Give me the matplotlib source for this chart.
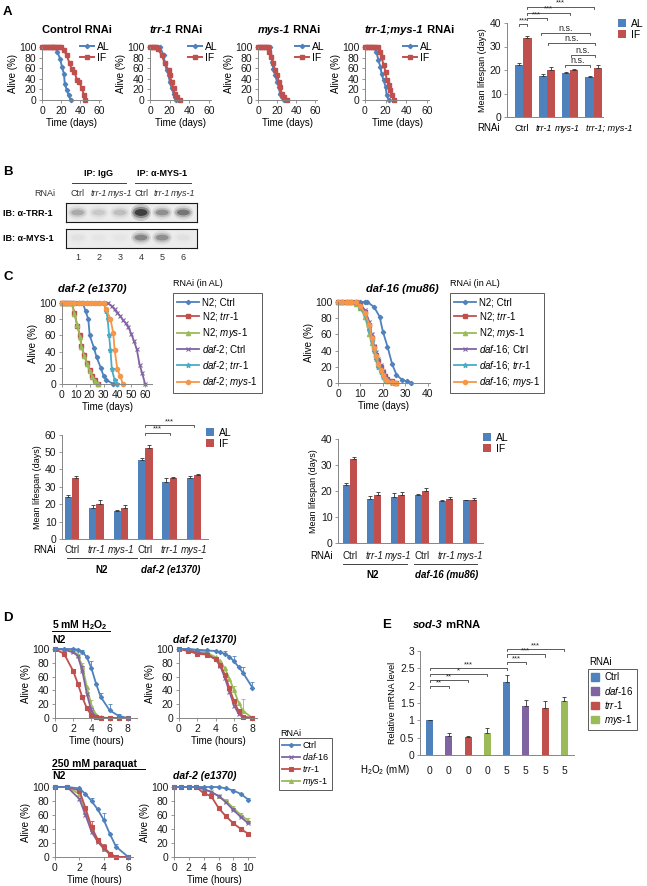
import numpy as np
import matplotlib
matplotlib.use('Agg')
import matplotlib.pyplot as plt
import matplotlib.transforms as mtransforms
from matplotlib.patches import Ellipse, Patch

plt.rcParams['font.family'] = ['Liberation Sans', 'DejaVu Sans']
plt.rcParams['mathtext.fontset'] = 'custom'
plt.rcParams['mathtext.rm'] = 'Liberation Sans'
plt.rcParams['mathtext.it'] = 'Liberation Sans:italic'
plt.rcParams['mathtext.bf'] = 'Liberation Sans:bold'
plt.rcParams['axes.linewidth'] = 0.6

BLUE, RED, GREEN = '#4f81bd', '#c0504d', '#9bbb59'
PURPLE, TEAL, ORANGE = '#8064a2', '#4bacc6', '#f79646'
AXC = '#868686'

# ---------------- data ----------------
# A: survival (days, % alive)
ctrl_al_t = [0, 2, 4, 6, 8, 10, 12, 14, 16, 19, 21, 23, 24, 26, 28, 30]
ctrl_al_s = [100, 100, 100, 100, 100, 100, 100, 100, 91, 78, 62, 50, 30, 19, 9, 0]
ctrl_if_t = [0, 2, 4, 6, 8, 10, 12, 14, 16, 18, 20, 23, 26, 29, 31, 34, 37, 39, 42, 44, 45]
ctrl_if_s = [100] * 11 + [94, 84, 69, 59, 53, 37, 34, 22, 9, 0]
trr_al_t = [0, 2, 4, 6, 8, 10, 14, 15, 17, 19, 20, 22, 24, 25, 26]
trr_al_s = [100, 100, 100, 100, 100, 100, 84, 69, 56, 47, 34, 22, 12, 6, 0]
trr_if_t = [0, 2, 4, 6, 8, 12, 15, 19, 20, 22, 24, 25, 27, 30]
trr_if_s = [100, 100, 100, 100, 97, 84, 69, 56, 47, 34, 22, 12, 6, 0]
mys_al_t = [0, 2, 4, 6, 8, 10, 13, 15, 16, 18, 20, 22, 23, 25, 27]
mys_al_s = [100] * 7 + [72, 59, 47, 34, 25, 12, 6, 0]
mys_if_t = [0, 2, 4, 6, 8, 10, 12, 14, 16, 18, 20, 22, 23, 25, 27, 30]
mys_if_s = [100, 100, 100, 100, 100, 100, 91, 81, 69, 56, 47, 34, 25, 12, 6, 0]
tm_al_t = [0, 2, 4, 6, 8, 11, 13, 15, 16, 18, 20, 21, 23]
tm_al_s = [100, 100, 100, 100, 100, 91, 75, 62, 50, 37, 25, 9, 0]
tm_if_t = [0, 2, 4, 6, 8, 10, 13, 15, 16, 18, 20, 21, 23, 24, 26, 28]
tm_if_s = [100] * 7 + [91, 81, 66, 53, 37, 28, 19, 9, 0]

a_cats = ['Ctrl', 'trr-1', 'mys-1', 'trr-1; mys-1']
a_al = [22, 17.5, 18.8, 17]
a_al_err = [1.0, 0.8, 0.3, 0.3]
a_if = [33.8, 20, 20, 20.8]
a_if_err = [0.8, 1.2, 0.5, 1.2]

# B: western blot band intensities (lanes 1-6)
b_lanes = ['Ctrl', 'trr-1', 'mys-1', 'Ctrl', 'trr-1', 'mys-1']
b_trr = [0.3, 0.15, 0.2, 1.0, 0.45, 0.6]
b_mys = [0.04, 0.03, 0.03, 0.5, 0.45, 0.04]

# C: survival, daf-2 background
c2_n2ctrl_t = [0, 2, 4, 6, 8, 10, 12, 14, 15, 17, 19, 20, 23, 25, 28, 30, 32, 37]
c2_n2ctrl_s = [100] * 9 + [90, 80, 60, 45, 33, 20, 10, 5, 0]
c2_n2trr_t = [0, 2, 4, 7, 9, 11, 13, 14, 16, 18, 20, 22, 24, 26]
c2_n2trr_s = [100, 100, 100, 100, 88, 72, 60, 47, 36, 26, 17, 10, 5, 0]
c2_n2mys_s = [100, 100, 100, 100, 86, 73, 58, 46, 35, 25, 16, 9, 4, 0]
c2_dctrl_t = [0, 3, 6, 9, 12, 15, 18, 21, 24, 27, 30, 33, 36, 38, 40, 42, 44, 46, 48, 50, 52, 54, 56, 58, 60]
c2_dctrl_s = [100] * 12 + [96, 92, 88, 84, 79, 75, 70, 62, 53, 43, 24, 13, 0]
c2_dtrr_t = [0, 3, 6, 9, 12, 15, 18, 21, 24, 27, 30, 32, 33, 34, 35, 36, 38, 40]
c2_dtrr_s = [100] * 11 + [90, 80, 60, 42, 18, 5, 0]
c2_dmys_t = [0, 3, 6, 9, 12, 15, 18, 21, 24, 27, 30, 32, 35, 37, 38, 40, 42, 44]
c2_dmys_s = [100] * 11 + [92, 80, 63, 42, 18, 10, 0]

# C: survival, daf-16 background
c16_n2ctrl_t = [0, 2, 4, 6, 8, 10, 12, 13, 16, 18.5, 20, 22, 24, 26, 28.5, 30.5, 32.5]
c16_n2ctrl_s = [100] * 8 + [94, 82, 63, 45, 24, 10, 4, 2, 0]
c16_t = [0, 2, 4, 6, 8, 10, 12, 14, 15, 16, 17, 18, 19, 20, 21, 22, 24, 26]
c16_n2trr_s = [100, 100, 100, 100, 100, 96, 88, 72, 55, 44, 35, 27, 20, 14, 9, 5, 2, 0]
c16_n2mys_s = [100, 100, 100, 100, 98, 92, 82, 60, 50, 42, 32, 24, 17, 11, 7, 3, 1, 0]
c16_dctrl_s = [100, 100, 100, 100, 100, 97, 90, 75, 60, 46, 38, 30, 22, 15, 9, 5, 2, 0]
c16_dtrr_s = [100, 100, 100, 100, 99, 93, 84, 66, 52, 40, 30, 20, 13, 8, 4, 2, 0, 0]
c16_dmys_s = [100, 100, 100, 100, 100, 95, 86, 72, 55, 43, 33, 24, 16, 10, 5, 2, 1, 0]

c_cats = ['Ctrl', 'trr-1', 'mys-1', 'Ctrl', 'trr-1', 'mys-1']
cl_al = [24, 18, 16, 45.5, 33, 35.2]
cl_al_err = [1.3, 1.3, 0.7, 1.2, 2.2, 0.8]
cl_if = [35, 20, 17.8, 52.5, 35, 36.5]
cl_if_err = [1.2, 2.3, 1.7, 1.5, 0.8, 0.9]
cr_al = [22.5, 17, 17.8, 18.3, 16.2, 16.5]
cr_al_err = [0.5, 1.0, 1.3, 0.4, 0.4, 0.2]
cr_if = [32.3, 18.6, 18.4, 20, 16.8, 16.7]
cr_if_err = [0.8, 1.0, 1.4, 1.0, 0.8, 0.6]

# D: stress survival (hours, % alive, upper error)
dh_t = [0, 1, 2, 2.5, 3, 3.5, 4, 4.5, 5, 6, 7, 8]
dh_n2 = {
    'Ctrl':   ([100, 100, 100, 99, 96, 88, 72, 50, 31, 11, 3, 0], [0, 0, 0, 0, 2, 0, 10, 0, 5, 10, 3, 0]),
    'daf-16': ([100, 99, 95, 90, 68, 35, 10, 2, 0, 0, 0, 0], [0, 0, 0, 0, 8, 0, 4, 0, 0, 0, 0, 0]),
    'trr-1':  ([100, 93, 68, 50, 30, 14, 4, 1, 0, 0, 0, 0], [0, 0, 3, 0, 4, 0, 2, 0, 0, 0, 0, 0]),
    'mys-1':  ([100, 100, 97, 92, 75, 45, 18, 5, 1, 0, 0, 0], [0, 0, 0, 0, 5, 0, 8, 0, 0, 0, 0, 0]),
}
dh2_t = [0, 1, 2, 3, 4, 4.5, 5, 5.5, 6, 6.5, 7, 8]
dh_daf2 = {
    'Ctrl':   ([100, 100, 99, 98, 97, 95, 93, 89, 82, 74, 65, 44], [0, 0, 0, 0, 0, 0, 4, 0, 8, 0, 9, 8]),
    'daf-16': ([100, 99, 95, 93, 85, 75, 58, 38, 18, 6, 1, 0], [0] * 12),
    'trr-1':  ([100, 97, 93, 92, 85, 77, 63, 43, 24, 10, 2, 0], [0] * 12),
    'mys-1':  ([100, 100, 98, 95, 88, 82, 72, 57, 40, 22, 10, 0], [0, 0, 0, 0, 0, 0, 0, 0, 6, 0, 17, 0]),
}
dp_t = [0, 1, 2, 2.5, 3, 3.5, 4, 4.5, 5, 6]
dp_n2 = {
    'Ctrl':   ([100, 100, 98, 90, 80, 68, 53, 33, 15, 0], [0, 0, 0, 0, 5, 0, 10, 0, 4, 0]),
    'daf-16': ([100, 100, 83, 60, 36, 22, 12, 4, 0, 0], [0] * 10),
    'trr-1':  ([100, 100, 95, 70, 43, 25, 14, 5, 0, 0], [0, 0, 0, 0, 8, 0, 4, 0, 0, 0]),
    'mys-1':  ([100, 100, 90, 65, 40, 23, 12, 4, 0, 0], [0] * 10),
}
dp2_t = [0, 1, 2, 3, 4, 5, 6, 7, 8, 9, 10]
dp_daf2 = {
    'Ctrl':   ([100, 100, 100, 100, 100, 100, 100, 98, 95, 90, 82], [0, 0, 0, 0, 0, 0, 0, 1, 2, 1, 2]),
    'daf-16': ([100, 100, 100, 100, 97, 93, 87, 78, 67, 57, 48], [0, 0, 0, 0, 0, 0, 2, 0, 3, 0, 3]),
    'trr-1':  ([100, 100, 100, 100, 91, 87, 70, 58, 48, 40, 33], [0, 0, 0, 0, 0, 0, 2, 2, 2, 2, 3]),
    'mys-1':  ([100, 100, 100, 100, 97, 93, 87, 80, 70, 60, 52], [0, 0, 0, 0, 0, 0, 0, 3, 3, 3, 4]),
}

# E: sod-3 mRNA
e_rnai = ['Ctrl', 'daf-16', 'trr-1', 'mys-1', 'Ctrl', 'daf-16', 'trr-1', 'mys-1']
e_h2o2 = ['0', '0', '0', '0', '5', '5', '5', '5']
e_val = [1.0, 0.55, 0.51, 0.63, 2.1, 1.4, 1.37, 1.57]
e_err = [0.01, 0.08, 0.05, 0.14, 0.22, 0.19, 0.2, 0.1]
e_sig = [(0, 1, '**'), (0, 2, '**'), (0, 3, '*'), (0, 4, '***'),
         (4, 5, '***'), (4, 6, '***'), (4, 7, '***')]
e_sig_y = [1.99, 2.16, 2.33, 2.5, 2.68, 2.9, 3.05]

# ---------------- figure ----------------
W, H = 647, 886
fig = plt.figure(figsize=(W / 100, H / 100), dpi=100)
ax0 = fig.add_axes([0, 0, 1, 1])
ax0.set_xlim(0, W)
ax0.set_ylim(H, 0)
ax0.axis('off')
ax0.set_zorder(10)


def pax(l, t, r, b):
    a = fig.add_axes([l / W, 1 - b / H, (r - l) / W, (b - t) / H])
    a.patch.set_visible(False)
    return a


def excel(a):
    for s in ['top', 'right']:
        a.spines[s].set_visible(False)
    for s in ['left', 'bottom']:
        a.spines[s].set_color(AXC)
        a.spines[s].set_linewidth(0.7)
    a.tick_params(direction='out', length=2.5, width=0.6, color=AXC,
                  labelsize=7.5, pad=1.5, labelcolor='#1a1a1a')


def rich(x, y, parts, size=8):
    prev = None
    for s, st in parts:
        kw = dict(fontsize=size, fontweight='bold' if 'b' in st else 'normal',
                  fontstyle='italic' if 'i' in st else 'normal',
                  va='baseline', ha='left')
        if prev is None:
            prev = ax0.text(x, y, s, **kw)
        else:
            prev = ax0.annotate(s, xy=(1, y), xycoords=(prev, 'data'), **kw)


def fig_anchor(x, y):
    return dict(bbox_to_anchor=(x / W, 1 - y / H), bbox_transform=fig.transFigure)


def survival(l, t, r, b, xmax, xticks, xlabel):
    a = pax(l, t, r, b)
    excel(a)
    a.set_xlim(0, xmax)
    a.set_ylim(0, 100)
    a.set_xticks(xticks)
    a.set_yticks(range(0, 101, 20))
    a.set_xlabel(xlabel, fontsize=7, labelpad=1.5)
    a.set_ylabel('Alive (%)', fontsize=7, labelpad=1)
    return a


def bracket(a, x1, x2, y, label, tick, size=5.5):
    a.plot([x1, x1, x2, x2], [y - tick, y, y, y - tick], color='#404040',
           lw=0.6, clip_on=False)
    a.text((x1 + x2) / 2, y, label, ha='center', va='bottom', fontsize=size,
           color='#262626', clip_on=False)


def italic_ticks(a):
    for lab in a.get_xticklabels():
        if lab.get_text() not in ('Ctrl', '0', '5'):
            lab.set_fontstyle('italic')


def mean_bars(a, al, al_err, iff, iff_err, w):
    x = np.arange(len(al))
    a.bar(x - w / 2, al, w, color=BLUE, label='AL')
    a.bar(x + w / 2, iff, w, color=RED, label='IF')
    a.errorbar(x - w / 2, al, yerr=[np.zeros(len(al)), al_err], fmt='none',
               ecolor='#333333', elinewidth=0.6, capsize=1.6, capthick=0.6)
    a.errorbar(x + w / 2, iff, yerr=[np.zeros(len(iff)), iff_err], fmt='none',
               ecolor='#333333', elinewidth=0.6, capsize=1.6, capthick=0.6)
    return x


# ---------- A ----------
ax0.text(3, 12, 'A', fontsize=9.5, fontweight='bold', va='center')
a_titles = [[('Control RNAi', 'b')], [('trr-1', 'bi'), (' RNAi', 'b')],
            [('mys-1', 'bi'), (' RNAi', 'b')], [('trr-1;mys-1', 'bi'), (' RNAi', 'b')]]
a_curves = [(ctrl_al_t, ctrl_al_s, ctrl_if_t, ctrl_if_s),
            (trr_al_t, trr_al_s, trr_if_t, trr_if_s),
            (mys_al_t, mys_al_s, mys_if_t, mys_if_s),
            (tm_al_t, tm_al_s, tm_if_t, tm_if_s)]
a_boxes = [(42, 101, 80), (150, 211, 188), (258, 317, 295), (365, 429, 403)]
for (l, r, lx), title, (t1, s1, t2, s2) in zip(a_boxes, a_titles, a_curves):
    a = survival(l, 47, r, 100, 62, [0, 20, 40, 60], 'Time (days)')
    a.plot(t1, s1, color=BLUE, lw=1.4, marker='D', ms=2.2, label='AL', clip_on=False)
    a.plot(t2, s2, color=RED, lw=1.4, marker='s', ms=2.6, label='IF', clip_on=False)
    rich(l, 33, title, size=8)
    a.legend(loc='upper left', frameon=False, fontsize=7.5, handlelength=1.3,
             handletextpad=0.3, borderaxespad=0, borderpad=0, labelspacing=0.05,
             **fig_anchor(lx, 42))

a = pax(507, 23, 603, 117)
excel(a)
x = mean_bars(a, a_al, a_al_err, a_if, a_if_err, 0.35)
a.set_xlim(-0.7, 3.4)
a.set_ylim(0, 40)
a.set_yticks(range(0, 41, 10))
a.set_xticks(x)
a.set_xticklabels([])
a.tick_params(axis='x', length=0)
a.set_ylabel('Mean lifespan (days)', fontsize=6.5, labelpad=2)
ax0.text(477, 128, 'RNAi', fontsize=7, va='center')
at = mtransforms.blended_transform_factory(a.transData, ax0.transData)
for xi, lab, dx in zip(x, a_cats, [-0.08, -0.14, -0.12, 0.68]):
    ax0.text(xi + dx, 128, lab, transform=at, fontsize=6.6, ha='center', va='center',
             fontstyle='normal' if lab == 'Ctrl' else 'italic')
bracket(a, -0.17, 0.17, 39.6, '***', 0.8)
bracket(a, 0.15, 1.0, 42.1, '***', 0.8)
bracket(a, 0.15, 2.0, 44.4, '***', 0.8)
bracket(a, 0.15, 3.0, 46.9, '***', 0.8)
bracket(a, 0.75, 2.85, 35.7, 'n.s.', 0.8, 6.5)
bracket(a, 1.07, 3.05, 31.5, 'n.s.', 0.8, 6.5)
bracket(a, 2.02, 3.05, 26.4, 'n.s.', 0.8, 6.5)
bracket(a, 1.77, 2.85, 22.1, 'n.s.', 0.8, 6.5)
a.legend(loc='upper left', frameon=False, fontsize=7.5, handlelength=0.8,
         handleheight=0.8, handletextpad=0.4, borderaxespad=0, borderpad=0,
         labelspacing=0.05, **fig_anchor(618, 19))

# ---------- B ----------
ax0.text(3, 172, 'B', fontsize=9.5, fontweight='bold', va='center')
blots = []
for (t, b), inten, yc in [((203, 222), b_trr, 0.5), ((229, 248), b_mys, 0.55)]:
    a = pax(66, t, 197, b)
    a.patch.set_visible(True)
    a.set_facecolor('#ececec')
    a.set_xlim(0.45, 6.65)
    a.set_ylim(0, 1)
    a.set_xticks([])
    a.set_yticks([])
    for s in a.spines.values():
        s.set_linewidth(0.8)
        s.set_color('#1a1a1a')
    for i, v in enumerate(inten):
        for w, h, al in [(0.95, 0.75, 0.15), (0.8, 0.5, 0.3), (0.6, 0.3, 0.55)]:
            hh = h * (1.2 if v > 0.9 else 1.0)
            a.add_patch(Ellipse((i + 1, yc), w, hh, color='black', alpha=al * v, lw=0))
    blots.append(a)
ax0.text(3, 213, 'IB: \u03b1-TRR-1', fontsize=6.5, fontweight='bold', va='center')
ax0.text(3, 238, 'IB: \u03b1-MYS-1', fontsize=6.5, fontweight='bold', va='center')
bt = mtransforms.blended_transform_factory(blots[0].transData, ax0.transData)
lanes = np.arange(1, 7)
for xi, lab in zip(lanes, b_lanes):
    ax0.text(xi, 193, lab, transform=bt, fontsize=6.5, ha='center', va='center',
             color='#333333', fontstyle='normal' if lab == 'Ctrl' else 'italic')
    ax0.text(xi, 258, str(xi), transform=bt, fontsize=6.5, ha='center',
             va='center', color='#333333')
ax0.text(55, 193, 'RNAi', fontsize=6.5, ha='right', va='center', color='#333333')
ax0.text(2, 173, 'IP: IgG', transform=bt, fontsize=6.5, fontweight='bold',
         ha='center', va='center')
ax0.text(5, 173, 'IP: \u03b1-MYS-1', transform=bt, fontsize=6.5, fontweight='bold',
         ha='center', va='center')
ax0.plot([0.75, 3.3], [183, 183], transform=bt, color='#404040', lw=0.7)
ax0.plot([3.7, 6.35], [183, 183], transform=bt, color='#404040', lw=0.7)

# ---------- C ----------
ax0.text(3, 277, 'C', fontsize=9.5, fontweight='bold', va='center')
ax0.text(58, 289, 'daf-2 (e1370)', fontsize=8, fontweight='bold',
         fontstyle='italic', va='center')
ax0.text(366, 289, 'daf-16 (mu86)', fontsize=8, fontweight='bold',
         fontstyle='italic', va='center')
ax0.text(173, 284, 'RNAi (in AL)', fontsize=6.5, va='center')
ax0.text(450, 284, 'RNAi (in AL)', fontsize=6.5, va='center')

leg_kw = dict(loc='upper left', fancybox=False, edgecolor='#404040',
              framealpha=1, fontsize=7, handlelength=2.2, handletextpad=0.3,
              labelspacing=0.3, borderpad=0.45, borderaxespad=0)

a = survival(62, 303, 152, 384, 65, range(0, 61, 10), 'Time (days)')
a.plot(c2_n2ctrl_t, c2_n2ctrl_s, color=BLUE, lw=1.3, marker='D', ms=2.2,
       label='N2; Ctrl', clip_on=False)
a.plot(c2_n2trr_t, c2_n2trr_s, color=RED, lw=1.3, marker='s', ms=3,
       label='N2; $\\mathit{trr}$-$\\mathit{1}$', clip_on=False)
a.plot(c2_n2trr_t, c2_n2mys_s, color=GREEN, lw=1.3, marker='^', ms=3,
       label='N2; $\\mathit{mys}$-$\\mathit{1}$', clip_on=False)
a.plot(c2_dctrl_t, c2_dctrl_s, color=PURPLE, lw=1.3, marker='x', ms=3.5,
       mew=0.8, label='$\\mathit{daf}$-$\\mathit{2}$; Ctrl', clip_on=False)
a.plot(c2_dtrr_t, c2_dtrr_s, color=TEAL, lw=1.3, marker='*', ms=3.5,
       label='$\\mathit{daf}$-$\\mathit{2}$; $\\mathit{trr}$-$\\mathit{1}$', clip_on=False)
a.plot(c2_dmys_t, c2_dmys_s, color=ORANGE, lw=1.3, marker='o', ms=3,
       label='$\\mathit{daf}$-$\\mathit{2}$; $\\mathit{mys}$-$\\mathit{1}$', clip_on=False)
leg = a.legend(**leg_kw, **fig_anchor(173, 293))
leg.get_frame().set_linewidth(0.6)

a = survival(338, 302, 430, 383, 40.9, range(0, 41, 10), 'Time (days)')
a.plot(c16_n2ctrl_t, c16_n2ctrl_s, color=BLUE, lw=1.3, marker='D', ms=2.2,
       label='N2; Ctrl', clip_on=False)
a.plot(c16_t, c16_n2trr_s, color=RED, lw=1.3, marker='s', ms=3,
       label='N2; $\\mathit{trr}$-$\\mathit{1}$', clip_on=False)
a.plot(c16_t, c16_n2mys_s, color=GREEN, lw=1.3, marker='^', ms=3,
       label='N2; $\\mathit{mys}$-$\\mathit{1}$', clip_on=False)
a.plot(c16_t, c16_dctrl_s, color=PURPLE, lw=1.3, marker='x', ms=3.5, mew=0.8,
       label='$\\mathit{daf}$-$\\mathit{16}$; Ctrl', clip_on=False)
a.plot(c16_t, c16_dtrr_s, color=TEAL, lw=1.3, marker='*', ms=3.5,
       label='$\\mathit{daf}$-$\\mathit{16}$; $\\mathit{trr}$-$\\mathit{1}$', clip_on=False)
a.plot(c16_t, c16_dmys_s, color=ORANGE, lw=1.3, marker='o', ms=3,
       label='$\\mathit{daf}$-$\\mathit{16}$; $\\mathit{mys}$-$\\mathit{1}$', clip_on=False)
leg = a.legend(**leg_kw, **fig_anchor(450, 293))
leg.get_frame().set_linewidth(0.6)

bar_leg = dict(loc='upper left', frameon=False, fontsize=7.5, handlelength=0.8,
               handleheight=0.8, handletextpad=0.4, borderaxespad=0, borderpad=0,
               labelspacing=0.05)

# C left bars
a = pax(62, 434.6, 208, 539)
excel(a)
x = mean_bars(a, cl_al, cl_al_err, cl_if, cl_if_err, 0.3)
a.set_xlim(-0.41, 5.57)
a.set_ylim(0, 60)
a.set_yticks(range(0, 61, 10))
a.set_xticks(x)
a.set_xticklabels(c_cats)
italic_ticks(a)
a.tick_params(axis='x', length=0, pad=4, labelsize=7)
a.set_ylabel('Mean lifespan (days)', fontsize=6.5, labelpad=2)
bracket(a, 3, 4, 61, '***', 1.2)
bracket(a, 3, 5, 65.5, '***', 1.2)
a.legend(**bar_leg, **fig_anchor(206, 428))
ax0.text(33, 550, 'RNAi', fontsize=7, va='center')
ct = mtransforms.blended_transform_factory(a.transData, ax0.transData)
ax0.plot([-0.2, 2.66], [558, 558], transform=ct, color='#404040', lw=0.7)
ax0.plot([2.79, 5.33], [558, 558], transform=ct, color='#404040', lw=0.7)
ax0.text(1.2, 570, 'N2', transform=ct, fontsize=7, fontweight='bold',
         ha='center', va='center')
ax0.text(4.05, 570, 'daf-2 (e1370)', transform=ct, fontsize=7, fontweight='bold',
         fontstyle='italic', ha='center', va='center')

# C right bars
a = pax(338, 439, 483, 543)
excel(a)
x = mean_bars(a, cr_al, cr_al_err, cr_if, cr_if_err, 0.3)
a.set_xlim(-0.5, 5.54)
a.set_ylim(0, 40)
a.set_yticks(range(0, 41, 10))
a.set_xticks(x)
a.set_xticklabels(c_cats)
italic_ticks(a)
a.tick_params(axis='x', length=0, pad=6, labelsize=7)
a.set_ylabel('Mean lifespan (days)', fontsize=6.5, labelpad=2)
a.legend(**bar_leg, **fig_anchor(483, 433))
ax0.text(310, 556, 'RNAi', fontsize=7, va='center')
ct = mtransforms.blended_transform_factory(a.transData, ax0.transData)
ax0.plot([-0.3, 2.38], [564, 564], transform=ct, color='#404040', lw=0.7)
ax0.plot([2.67, 5.3], [564, 564], transform=ct, color='#404040', lw=0.7)
ax0.text(0.96, 575, 'N2', transform=ct, fontsize=7, fontweight='bold',
         ha='center', va='center')
ax0.text(4.04, 575, 'daf-16 (mu86)', transform=ct, fontsize=7, fontweight='bold',
         fontstyle='italic', ha='center', va='center')

# ---------- D ----------
ax0.text(3, 618, 'D', fontsize=9.5, fontweight='bold', va='center')
ax0.text(52, 628, '5 mM H$_\\mathbf{2}$O$_\\mathbf{2}$', fontsize=7.5,
         fontweight='bold', va='baseline')
ax0.plot([52, 110], [631, 631], color='black', lw=0.7)
ax0.text(52, 767, '250 mM paraquat', fontsize=7.5, fontweight='bold', va='baseline')
ax0.plot([52, 145], [769, 769], color='black', lw=0.7)
for yy in (640, 776):
    ax0.text(52, yy, 'N2', fontsize=7.5, fontweight='bold', va='center')
    ax0.text(173, yy, 'daf-2 (e1370)', fontsize=7.5, fontweight='bold',
             fontstyle='italic', va='center')

d_style = {'Ctrl': (BLUE, 'D', 2.2), 'daf-16': (PURPLE, 'x', 3.5),
           'trr-1': (RED, 's', 2.6), 'mys-1': (GREEN, '^', 2.8)}
d_labels = {'Ctrl': 'Ctrl', 'daf-16': '$\\mathit{daf}$-$\\mathit{16}$',
            'trr-1': '$\\mathit{trr}$-$\\mathit{1}$',
            'mys-1': '$\\mathit{mys}$-$\\mathit{1}$'}
d_order = ['Ctrl', 'daf-16', 'trr-1', 'mys-1']
d_draw = ['mys-1', 'daf-16', 'trr-1', 'Ctrl']
d_panels = [((55, 649, 137, 718), 9, range(0, 9, 2), dh_t, dh_n2),
            ((179, 649, 257, 718), 8.5, range(0, 9, 2), dh2_t, dh_daf2),
            ((55, 787, 133, 857), 6.4, range(0, 7, 2), dp_t, dp_n2),
            ((174, 787, 255, 857), 10.9, range(0, 11, 2), dp2_t, dp_daf2)]
for box, xmax, xt, tt, curves in d_panels:
    a = survival(*box, xmax, xt, 'Time (hours)')
    handles = {}
    for key in d_draw:
        vals, err = curves[key]
        c, m, ms = d_style[key]
        ln, = a.plot(tt, vals, color=c, lw=1.3, marker=m, ms=ms, mew=0.8,
                     label=d_labels[key], clip_on=False)
        handles[key] = ln
        ex = [t for t, e in zip(tt, err) if e > 0]
        ey = [v for v, e in zip(vals, err) if e > 0]
        ee = [e for e in err if e > 0]
        if ex:
            a.errorbar(ex, ey, yerr=[np.zeros(len(ee)), ee], fmt='none',
                       ecolor=c, elinewidth=0.6, capsize=1.6, capthick=0.6)
ax0.text(280, 733, 'RNAi', fontsize=6.5, va='center')
leg = a.legend([handles[k] for k in d_order], [d_labels[k] for k in d_order],
               loc='upper left', fancybox=False, edgecolor='#404040',
               framealpha=1, fontsize=6.5, handlelength=2.0, handletextpad=0.3,
               labelspacing=0.15, borderpad=0.3, borderaxespad=0,
               **fig_anchor(279, 738))
leg.get_frame().set_linewidth(0.6)

# ---------- E ----------
ax0.text(382, 625, 'E', fontsize=9.5, fontweight='bold', va='center')
rich(413, 628, [('sod-3', 'bi'), (' mRNA', 'b')], size=8)
a = pax(420, 651, 574, 755)
excel(a)
e_col = {'Ctrl': BLUE, 'daf-16': PURPLE, 'trr-1': RED, 'mys-1': GREEN}
x = np.arange(len(e_val))
a.bar(x, e_val, 0.37, color=[e_col[r] for r in e_rnai])
a.errorbar(x, e_val, yerr=[np.zeros(len(e_err)), e_err], fmt='none',
           ecolor='#333333', elinewidth=0.6, capsize=1.6, capthick=0.6)
a.set_xlim(-0.5, 7.5)
a.set_ylim(0, 3)
a.set_yticks(np.arange(0, 3.01, 0.5))
a.set_yticklabels(['0', '0.5', '1', '1.5', '2', '2.5', '3'])
a.set_xticks(x)
a.set_xticklabels(e_h2o2)
a.tick_params(axis='x', length=0, pad=8)
a.set_ylabel('Relative mRNA level', fontsize=6.5, labelpad=2)
for (i, j, lab), yy in zip(e_sig, e_sig_y):
    bracket(a, i, j, yy, lab, 0.06)
ax0.text(410, 770, 'H$_2$O$_2$ (mM)', fontsize=7, ha='right', va='center')
ax0.text(589, 662, 'RNAi', fontsize=7, va='center')
leg = a.legend([Patch(color=e_col[k]) for k in d_order],
               [d_labels[k] for k in d_order], loc='upper left', fancybox=False,
               edgecolor='#404040', framealpha=1, fontsize=7, handlelength=0.8,
               handleheight=0.8, handletextpad=0.5, labelspacing=0.22,
               borderpad=0.35, borderaxespad=0, **fig_anchor(588, 669))
leg.get_frame().set_linewidth(0.6)

fig.savefig('out.png', dpi=100)
